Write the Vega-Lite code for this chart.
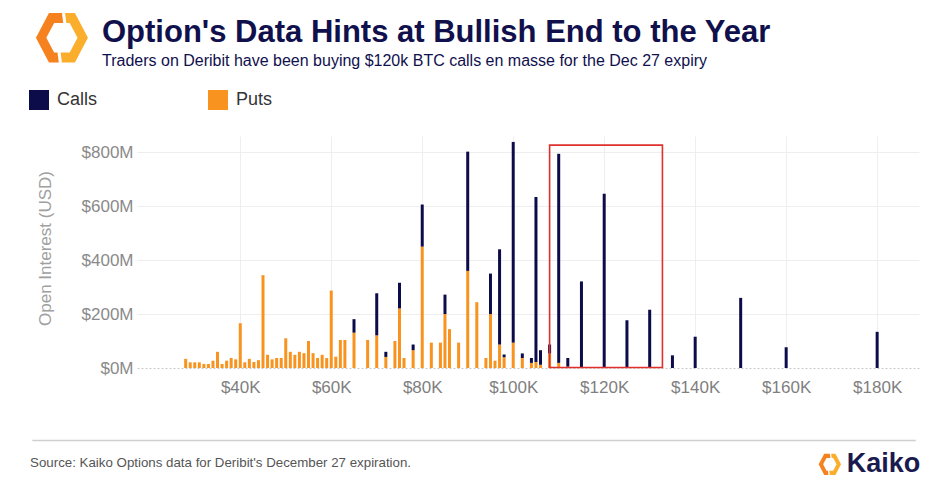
{
  "$schema": "https://vega.github.io/schema/vega-lite/v6.json",
  "width": 782,
  "height": 232,
  "autosize": "none",
  "padding": {"left": 137, "top": 136, "right": 23, "bottom": 123},
  "background": "white",
  "config": {"view": {"stroke": null}, "font": "Liberation Sans"},
  "title": {
    "text": "Option's Data Hints at Bullish End to the Year",
    "subtitle": "Traders on Deribit have been buying $120k BTC calls en masse for the Dec 27 expiry",
    "anchor": "start",
    "frame": "group",
    "dx": -35,
    "offset": -57,
    "font": "Liberation Sans",
    "fontSize": 31,
    "fontWeight": "bold",
    "color": "#10104d",
    "subtitleFont": "Liberation Sans",
    "subtitleFontSize": 16,
    "subtitleColor": "#10104d",
    "subtitlePadding": 4
  },
  "data": {
    "values": [
      {"strike": 28, "type": "Puts", "oi": 34},
      {"strike": 29, "type": "Puts", "oi": 21},
      {"strike": 30, "type": "Puts", "oi": 21},
      {"strike": 31, "type": "Puts", "oi": 21},
      {"strike": 32, "type": "Puts", "oi": 15},
      {"strike": 33, "type": "Puts", "oi": 15},
      {"strike": 34, "type": "Puts", "oi": 27},
      {"strike": 35, "type": "Puts", "oi": 60},
      {"strike": 36, "type": "Puts", "oi": 15},
      {"strike": 37, "type": "Puts", "oi": 27},
      {"strike": 38, "type": "Puts", "oi": 37},
      {"strike": 39, "type": "Puts", "oi": 32},
      {"strike": 40, "type": "Puts", "oi": 166},
      {"strike": 41, "type": "Puts", "oi": 21},
      {"strike": 42, "type": "Puts", "oi": 34},
      {"strike": 43, "type": "Puts", "oi": 22},
      {"strike": 44, "type": "Puts", "oi": 29},
      {"strike": 45, "type": "Puts", "oi": 344},
      {"strike": 46, "type": "Puts", "oi": 49},
      {"strike": 47, "type": "Puts", "oi": 32},
      {"strike": 48, "type": "Puts", "oi": 37},
      {"strike": 49, "type": "Puts", "oi": 37},
      {"strike": 50, "type": "Puts", "oi": 110},
      {"strike": 51, "type": "Puts", "oi": 60},
      {"strike": 52, "type": "Puts", "oi": 49},
      {"strike": 53, "type": "Puts", "oi": 60},
      {"strike": 54, "type": "Puts", "oi": 55},
      {"strike": 55, "type": "Puts", "oi": 100},
      {"strike": 56, "type": "Puts", "oi": 55},
      {"strike": 57, "type": "Puts", "oi": 37},
      {"strike": 58, "type": "Puts", "oi": 49},
      {"strike": 59, "type": "Puts", "oi": 37},
      {"strike": 60, "type": "Puts", "oi": 287},
      {"strike": 61, "type": "Puts", "oi": 42},
      {"strike": 62, "type": "Puts", "oi": 104},
      {"strike": 63, "type": "Puts", "oi": 104},
      {"strike": 65, "type": "Puts", "oi": 131},
      {"strike": 65, "type": "Calls", "oi": 50},
      {"strike": 68, "type": "Puts", "oi": 104},
      {"strike": 70, "type": "Puts", "oi": 121},
      {"strike": 70, "type": "Calls", "oi": 156},
      {"strike": 72, "type": "Puts", "oi": 41},
      {"strike": 72, "type": "Calls", "oi": 19},
      {"strike": 74, "type": "Puts", "oi": 100},
      {"strike": 75, "type": "Puts", "oi": 221},
      {"strike": 75, "type": "Calls", "oi": 95},
      {"strike": 76, "type": "Puts", "oi": 37},
      {"strike": 78, "type": "Puts", "oi": 66},
      {"strike": 78, "type": "Calls", "oi": 21},
      {"strike": 80, "type": "Puts", "oi": 450},
      {"strike": 80, "type": "Calls", "oi": 156},
      {"strike": 82, "type": "Puts", "oi": 94},
      {"strike": 84, "type": "Puts", "oi": 94},
      {"strike": 85, "type": "Puts", "oi": 200},
      {"strike": 85, "type": "Calls", "oi": 72},
      {"strike": 86, "type": "Puts", "oi": 144},
      {"strike": 88, "type": "Puts", "oi": 94},
      {"strike": 90, "type": "Puts", "oi": 360},
      {"strike": 90, "type": "Calls", "oi": 442},
      {"strike": 92, "type": "Puts", "oi": 244},
      {"strike": 94, "type": "Puts", "oi": 37},
      {"strike": 95, "type": "Puts", "oi": 200},
      {"strike": 95, "type": "Calls", "oi": 150},
      {"strike": 96, "type": "Puts", "oi": 27},
      {"strike": 97, "type": "Puts", "oi": 87},
      {"strike": 97, "type": "Calls", "oi": 353},
      {"strike": 98, "type": "Puts", "oi": 40},
      {"strike": 98, "type": "Calls", "oi": 10},
      {"strike": 100, "type": "Puts", "oi": 94},
      {"strike": 100, "type": "Calls", "oi": 744},
      {"strike": 102, "type": "Puts", "oi": 37},
      {"strike": 102, "type": "Calls", "oi": 17},
      {"strike": 104, "type": "Puts", "oi": 19},
      {"strike": 104, "type": "Calls", "oi": 18},
      {"strike": 105, "type": "Puts", "oi": 22},
      {"strike": 105, "type": "Calls", "oi": 612},
      {"strike": 106, "type": "Puts", "oi": 12},
      {"strike": 106, "type": "Calls", "oi": 54},
      {"strike": 108, "type": "Puts", "oi": 54},
      {"strike": 108, "type": "Calls", "oi": 33},
      {"strike": 110, "type": "Puts", "oi": 19},
      {"strike": 110, "type": "Calls", "oi": 775},
      {"strike": 112, "type": "Puts", "oi": 5},
      {"strike": 112, "type": "Calls", "oi": 32},
      {"strike": 115, "type": "Calls", "oi": 321},
      {"strike": 120, "type": "Calls", "oi": 646},
      {"strike": 125, "type": "Calls", "oi": 177},
      {"strike": 130, "type": "Calls", "oi": 216},
      {"strike": 135, "type": "Calls", "oi": 47},
      {"strike": 140, "type": "Calls", "oi": 116},
      {"strike": 150, "type": "Calls", "oi": 260},
      {"strike": 160, "type": "Calls", "oi": 77},
      {"strike": 180, "type": "Calls", "oi": 134}
    ]
  },
  "layer": [
    {
      "mark": {"type": "bar", "size": 3},
      "encoding": {
        "x": {
          "field": "strike",
          "type": "quantitative",
          "scale": {"domain": [18.4, 188.1], "nice": false, "zero": false},
          "axis": {
            "title": null,
            "values": [40, 60, 80, 100, 120, 140, 160, 180],
            "labelExpr": "'$' + datum.value + 'K'",
            "labelFontSize": 17,
            "labelColor": "#7f7f7f",
            "labelPadding": 11,
            "domain": false,
            "ticks": false,
            "grid": true,
            "gridColor": "#eeeeee",
            "gridWidth": 1
          }
        },
        "y": {
          "field": "oi",
          "type": "quantitative",
          "stack": "zero",
          "scale": {"domain": [0, 860], "nice": false},
          "axis": {
            "title": "Open Interest (USD)",
            "titleFontSize": 17,
            "titleFontWeight": "normal",
            "titleColor": "#a0a0a0",
            "titleX": -91.5,
            "titleY": 112,
            "titleAlign": "center",
            "titleBaseline": "middle",
            "titleAngle": -90,
            "values": [0, 200, 400, 600, 800],
            "labelExpr": "'$' + datum.value + 'M'",
            "labelFontSize": 17,
            "labelColor": "#8a8a8a",
            "labelPadding": 4,
            "domain": false,
            "ticks": false,
            "grid": true,
            "gridColor": {"condition": {"test": "datum.value === 0", "value": "#c8c8c8"}, "value": "#eeeeee"},
            "gridDash": {"condition": {"test": "datum.value === 0", "value": [2, 2]}, "value": []}
          }
        },
        "color": {
          "field": "type",
          "type": "nominal",
          "scale": {"domain": ["Calls", "Puts"], "range": ["#0c0c4a", "#f7931e"]},
          "legend": {
            "title": null,
            "orient": "none",
            "legendX": -108,
            "legendY": -46,
            "direction": "horizontal",
            "symbolType": "square",
            "symbolSize": 400,
            "symbolStrokeWidth": 0,
            "symbolOpacity": 1,
            "labelFontSize": 18,
            "labelColor": "#333333",
            "labelOffset": 8,
            "columnPadding": 110
          }
        },
        "order": {"field": "type", "sort": "descending"}
      }
    },
    {
      "data": {"values": [{}]},
      "mark": {"type": "rect", "fill": null, "fillOpacity": 0, "stroke": "#e0302e", "strokeWidth": 1.6},
      "encoding": {
        "x": {"datum": 108.0},
        "x2": {"datum": 132.8},
        "y": {"datum": 2},
        "y2": {"datum": 826}
      }
    },
    {
      "data": {"values": [{}]},
      "mark": {"type": "rule", "color": "#cfcfcf", "strokeWidth": 1.5},
      "encoding": {
        "x": {"datum": -5.7},
        "x2": {"datum": 188.5},
        "y": {"datum": -268.6}
      }
    },
    {
      "data": {"values": [{}]},
      "mark": {"type": "text", "align": "left", "baseline": "middle", "fontSize": 13.3, "color": "#555555", "font": "Liberation Sans"},
      "encoding": {
        "x": {"datum": -6.2},
        "y": {"datum": -351},
        "text": {"value": "Source: Kaiko Options data for Deribit's December 27 expiration."}
      }
    },
    {
      "data": {"values": [{}]},
      "mark": {"type": "text", "align": "left", "baseline": "middle", "fontSize": 27, "fontWeight": "bold", "color": "#1a1a4e", "font": "Liberation Sans"},
      "encoding": {
        "x": {"datum": 173.3},
        "y": {"datum": -355},
        "text": {"value": "Kaiko"}
      }
    },
    {
      "data": {"values": [{}]},
      "mark": {"type": "point", "filled": true, "fill": "#f5821f", "opacity": 1, "strokeWidth": 0, "shape": "M 0 -0.95 L -0.5 -0.95 L -1 0 L -0.5 0.95 L -0.12 0.95 L -0.17 0.57 L -0.3 0.57 L -0.6 0 L -0.3 -0.57 L 0.05 -0.57 Z", "size": 2704},
      "encoding": {"x": {"datum": 0.8}, "y": {"datum": 1224}}
    },
    {
      "data": {"values": [{}]},
      "mark": {"type": "point", "filled": true, "fill": "#fbad2c", "opacity": 1, "strokeWidth": 0, "shape": "M 0 0.95 L 0.5 0.95 L 1 0 L 0.5 -0.95 L 0.12 -0.95 L 0.17 -0.57 L 0.3 -0.57 L 0.6 0 L 0.3 0.57 L -0.05 0.57 Z", "size": 2704},
      "encoding": {"x": {"datum": 0.8}, "y": {"datum": 1224}}
    },
    {
      "data": {"values": [{}]},
      "mark": {"type": "point", "filled": true, "fill": "#f5821f", "opacity": 1, "strokeWidth": 0, "shape": "M 0 -0.95 L -0.5 -0.95 L -1 0 L -0.5 0.95 L -0.12 0.95 L -0.17 0.57 L -0.3 0.57 L -0.6 0 L -0.3 -0.57 L 0.05 -0.57 Z", "size": 500},
      "encoding": {"x": {"datum": 169.6}, "y": {"datum": -357}}
    },
    {
      "data": {"values": [{}]},
      "mark": {"type": "point", "filled": true, "fill": "#fbad2c", "opacity": 1, "strokeWidth": 0, "shape": "M 0 0.95 L 0.5 0.95 L 1 0 L 0.5 -0.95 L 0.12 -0.95 L 0.17 -0.57 L 0.3 -0.57 L 0.6 0 L 0.3 0.57 L -0.05 0.57 Z", "size": 500},
      "encoding": {"x": {"datum": 169.6}, "y": {"datum": -357}}
    }
  ]
}
